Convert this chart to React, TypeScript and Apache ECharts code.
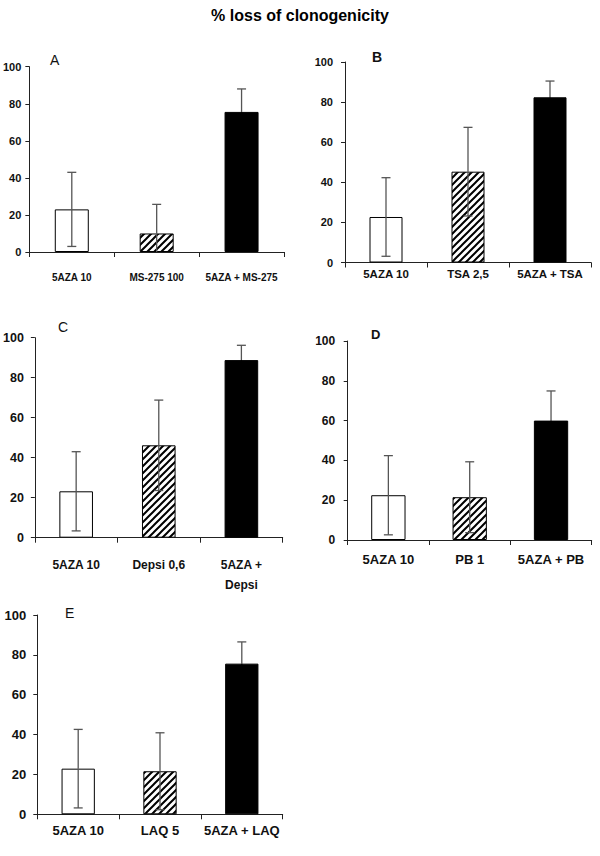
import React, { useEffect, useRef } from "react";
import * as echarts from "echarts";

// ---------- data ----------
const chartTitle = "% loss of clonogenicity";
const panelLetters = ["A", "B", "C", "D", "E"];

const catsA = ["5AZA 10", "MS-275 100", "5AZA + MS-275"];
const meanA = [23, 10, 75.6];
const sdA = [20, 15.7, 12.4];

const catsB = ["5AZA 10", "TSA 2,5", "5AZA + TSA"];
const meanB = [22.7, 45.3, 82.4];
const sdB = [19.6, 22.1, 8.1];

const catsC = ["5AZA 10", "Depsi 0,6", "5AZA +\nDepsi"];
const meanC = [23.2, 46.2, 88.8];
const sdC = [19.8, 22.6, 7.4];

const catsD = ["5AZA 10", "PB 1", "5AZA + PB"];
const meanD = [22.5, 21.5, 60];
const sdD = [19.9, 17.8, 14.9];

const catsE = ["5AZA 10", "LAQ 5", "5AZA + LAQ"];
const meanE = [22.9, 21.6, 75.6];
const sdE = [19.7, 19.3, 10.9];

const yTicks = [0, 20, 40, 60, 80, 100];

// ---------- layout / style ----------
const SANS = '"Liberation Sans", Arial, Helvetica, sans-serif';

const panels = [
  { cats: catsA, mean: meanA, sd: sdA, grid: { left: 26, top: 66.7, width: 258, height: 185.3 }, barWidth: 34,
    yFont: { fontSize: 11, margin: 8 }, xFont: { fontSize: 10, margin: 20 },
    letter: { x: 50, y: 61, font: `normal 14px ${SANS}` } },
  { cats: catsB, mean: meanB, sd: sdB, grid: { left: 345, top: 62, width: 246, height: 200.5 }, barWidth: 33,
    yFont: { fontSize: 11, margin: 12 }, xFont: { fontSize: 11.5, margin: 5 },
    letter: { x: 372, y: 58, font: `bold 14px ${SANS}` } },
  { cats: catsC, mean: meanC, sd: sdC, grid: { left: 34.3, top: 337.7, width: 248.4, height: 200 }, barWidth: 33.6,
    yFont: { fontSize: 12.5, margin: 11 }, xFont: { fontSize: 12, margin: 17, lineHeight: 20 },
    letter: { x: 58, y: 328, font: `normal 14px ${SANS}` } },
  { cats: catsD, mean: meanD, sd: sdD, grid: { left: 347.7, top: 341, width: 244, height: 199 }, barWidth: 34.3,
    yFont: { fontSize: 12, margin: 12.5 }, xFont: { fontSize: 13, margin: 13 },
    letter: { x: 371, y: 336, font: `bold 13px ${SANS}` } },
  { cats: catsE, mean: meanE, sd: sdE, grid: { left: 37.3, top: 615, width: 245.4, height: 199.3 }, barWidth: 33.3,
    yFont: { fontSize: 13, margin: 11 }, xFont: { fontSize: 13, margin: 10 },
    letter: { x: 65, y: 613.5, font: `normal 14px ${SANS}` } },
];

function makeHatch(): HTMLCanvasElement {
  const s = 7;
  const c = document.createElement("canvas");
  c.width = s;
  c.height = s;
  const ctx = c.getContext("2d")!;
  ctx.fillStyle = "#fff";
  ctx.fillRect(0, 0, s, s);
  ctx.strokeStyle = "#000";
  ctx.lineWidth = 2;
  ctx.beginPath();
  ctx.moveTo(-1, s + 1);
  ctx.lineTo(s + 1, -1);
  ctx.moveTo(-1, 1);
  ctx.lineTo(1, -1);
  ctx.moveTo(s - 1, s + 1);
  ctx.lineTo(s + 1, s - 1);
  ctx.stroke();
  return c;
}

export default function App() {
  const ref = useRef<HTMLDivElement>(null);

  useEffect(() => {
    if (!ref.current) return;
    const chart = echarts.init(ref.current, null, { renderer: "svg" });
    const hatch = makeHatch();
    const fills: any[] = ["#ffffff", { image: hatch, repeat: "repeat" }, "#000000"];

    const grid: any[] = [];
    const xAxis: any[] = [];
    const yAxis: any[] = [];
    const series: any[] = [];
    const graphic: any[] = [];

    panels.forEach((p, i) => {
      grid.push({ ...p.grid, containLabel: false });
      xAxis.push({
        type: "category",
        gridIndex: i,
        data: p.cats,
        axisLine: { show: true, lineStyle: { color: "#222", width: 1 } },
        axisTick: { show: true, alignWithLabel: false, length: 5, lineStyle: { color: "#222" } },
        axisLabel: {
          interval: 0,
          color: "#111",
          fontWeight: "bold",
          fontFamily: SANS,
          fontSize: p.xFont.fontSize,
          margin: p.xFont.margin,
          lineHeight: (p.xFont as any).lineHeight,
        },
        splitLine: { show: false },
      });
      yAxis.push({
        type: "value",
        gridIndex: i,
        min: yTicks[0],
        max: yTicks[yTicks.length - 1],
        interval: yTicks[1] - yTicks[0],
        axisLine: { show: true, lineStyle: { color: "#222", width: 1 } },
        axisTick: { show: true, length: 4, lineStyle: { color: "#222" } },
        axisLabel: {
          color: "#111",
          fontWeight: "bold",
          fontFamily: SANS,
          fontSize: p.yFont.fontSize,
          margin: p.yFont.margin,
        },
        splitLine: { show: false },
      });
      series.push({
        type: "bar",
        xAxisIndex: i,
        yAxisIndex: i,
        barWidth: p.barWidth,
        data: p.mean.map((v, j) => ({
          value: v,
          itemStyle: { color: fills[j], borderColor: "#000", borderWidth: 1 },
        })),
        z: 2,
      });
      series.push({
        type: "custom",
        xAxisIndex: i,
        yAxisIndex: i,
        z: 3,
        data: p.mean.map((v, j) => [j, v, p.sd[j]]),
        renderItem: (params: any, api: any) => {
          const x = api.value(0);
          const m = api.value(1);
          const s = api.value(2);
          const solid = params.dataIndex === 2;
          const hi = api.coord([x, m + s]);
          const mid = api.coord([x, m]);
          const lo = api.coord([x, Math.max(0, m - s)]);
          const cap = 4.5;
          const style = { stroke: "#555", lineWidth: 1.3 };
          const lowStyle = { stroke: solid ? "#000" : "#555", lineWidth: 1.3 };
          const children: any[] = [
            { type: "line", shape: { x1: hi[0], y1: hi[1], x2: mid[0], y2: mid[1] }, style },
            { type: "line", shape: { x1: mid[0], y1: mid[1], x2: lo[0], y2: lo[1] }, style: lowStyle },
            { type: "line", shape: { x1: hi[0] - cap, y1: hi[1], x2: hi[0] + cap, y2: hi[1] }, style },
          ];
          if (m - s > 0) {
            children.push({ type: "line", shape: { x1: lo[0] - cap, y1: lo[1], x2: lo[0] + cap, y2: lo[1] }, style: lowStyle });
          }
          return { type: "group", children };
        },
      });
      graphic.push({
        type: "text",
        left: p.letter.x,
        top: p.letter.y - 8,
        style: { text: panelLetters[i], font: p.letter.font, fill: "#111" },
      });
    });

    chart.setOption({
      animation: false,
      backgroundColor: "#ffffff",
      title: {
        text: chartTitle,
        left: "center",
        top: 2,
        textStyle: { fontFamily: SANS, fontWeight: "bold", fontSize: 16, color: "#000" },
      },
      grid,
      xAxis,
      yAxis,
      series,
      graphic,
    });

    return () => chart.dispose();
  }, []);

  return (
    <div
      ref={ref}
      style={{ position: "fixed", left: 0, top: 0, width: 600, height: 856, background: "#fff" }}
    />
  );
}
